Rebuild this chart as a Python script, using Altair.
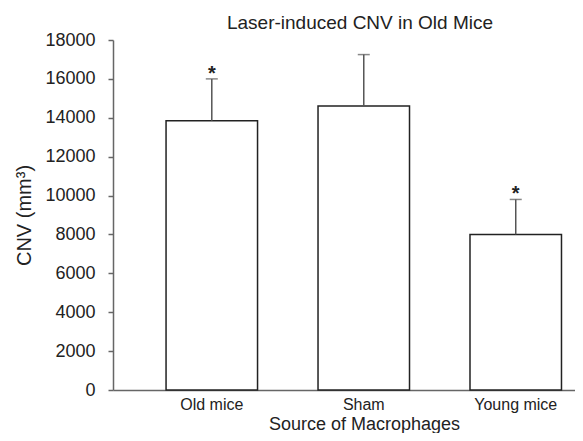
import altair as alt
import pandas as pd

groups = ["Old mice", "Sham", "Young mice"]
cnv_mean = [13850, 14600, 8000]
cnv_upper = [16000, 17250, 9800]
significant = [True, False, True]
y_ticks = [0, 2000, 4000, 6000, 8000, 10000, 12000, 14000, 16000, 18000]

df = pd.DataFrame({
    "group": groups,
    "mean": cnv_mean,
    "upper": cnv_upper,
    "star": ["*" if s else "" for s in significant],
})

FONT = "Liberation Sans"
TXT = "#222222"
AX = "#666666"

xenc = alt.X(
    "group:N", sort=groups, title="Source of Macrophages",
    scale=alt.Scale(paddingInner=0.398, paddingOuter=0.219, align=0.797, round=False),
    axis=alt.Axis(labelAngle=0, ticks=False, domainColor=AX, domainWidth=1.5,
                  labelFontSize=16, labelColor=TXT, labelPadding=6, labelFont=FONT,
                  titleFontSize=18, titleFontWeight="normal", titleColor=TXT, titleFont=FONT,
                  titleX=251, titleY=39, titleBaseline="alphabetic"),
)

yscale = alt.Scale(domain=[0, 18000], nice=False)
yaxis = alt.Axis(values=y_ticks, tickCount=10, format="d", labelOverlap=False, grid=False,
                 tickSize=5, tickColor=AX, tickWidth=1.5, domainColor=AX, domainWidth=1.5,
                 labelFontSize=18, labelColor=TXT, labelPadding=13, labelFont=FONT,
                 titleFontSize=20, titleFontWeight="normal", titleColor=TXT, titleFont=FONT,
                 titlePadding=10)
YT = "CNV (mm³)"

base = alt.Chart(df)

bars = base.mark_bar(fill="white", stroke="#222222", strokeWidth=1.5).encode(
    x=xenc, y=alt.Y("mean:Q", scale=yscale, axis=yaxis, title=YT))
err = base.mark_rule(color="#555555", strokeWidth=1.5).encode(
    x=xenc, y=alt.Y("mean:Q", scale=yscale, axis=yaxis, title=YT), y2="upper:Q")
cap = base.mark_tick(color="#555555", size=12, thickness=1.5).encode(
    x=xenc, y=alt.Y("upper:Q", scale=yscale, axis=yaxis, title=YT))
stars = base.transform_filter(alt.datum.star != "").mark_text(
    fontSize=20, fontWeight="bold", font=FONT, color=TXT, baseline="alphabetic", dy=1
).encode(x=xenc, y=alt.Y("upper:Q", scale=yscale, axis=yaxis, title=YT), text="star:N")

chart = alt.layer(bars, err, cap, stars).properties(
    width=462, height=350,
    title=alt.TitleParams("Laser-induced CNV in Old Mice", fontSize=19, fontWeight="normal",
                          color=TXT, font=FONT, anchor="middle", dx=16, dy=19, offset=2,
                          baseline="alphabetic"),
    autosize=alt.AutoSizeParams(type="none"),
    padding={"left": 105, "top": 32, "right": 0, "bottom": 43},
).configure_view(stroke=None)

chart.save("out.html", embed_options={"renderer": "svg", "actions": False})
